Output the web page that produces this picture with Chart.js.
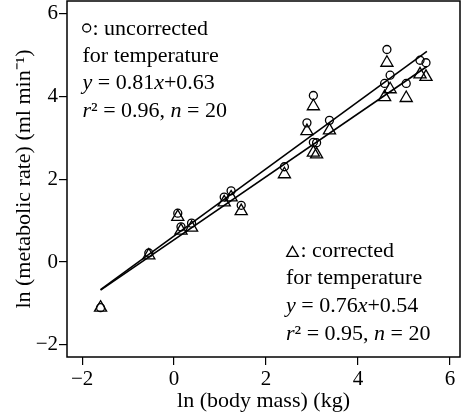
<!DOCTYPE html>
<html>
<head>
<meta charset="utf-8">
<script src="https://cdn.jsdelivr.net/npm/chart.js@4.4.1/dist/chart.umd.min.js"></script>
<style>
  html, body { margin: 0; padding: 0; background: #fff; }
  #wrap { width: 465px; height: 415px; }
</style>
</head>
<body>
<div id="wrap"><canvas id="chart" width="465" height="415"></canvas></div>
<script>
// metabolic rate vs body mass (log-log), raw and temperature corrected, with fits
const massLn = [-1.6, -0.55, 0.08, 0.15, 0.38, 1.09, 1.24, 1.46, 2.40, 2.89, 3.03, 3.38, 3.03, 3.10, 4.63, 4.70, 4.58, 5.05, 5.35, 5.48]
const rateRaw = [-1.1, 0.22, 1.18, 0.85, 0.94, 1.57, 1.72, 1.37, 2.30, 3.36, 4.02, 3.42, 2.89, 2.88, 5.13, 4.51, 4.31, 4.31, 4.87, 4.81]
const rateCorr = [-1.1, 0.16, 1.09, 0.76, 0.83, 1.44, 1.56, 1.23, 2.12, 3.16, 3.76, 3.18, 2.64, 2.60, 4.81, 4.17, 3.98, 3.96, 4.53, 4.47]

const fitNames = ['uncorrected', 'corrected']
const fitSlope = [0.81, 0.76]
const fitIntercept = [0.63, 0.54]
const fitR2 = [0.96, 0.95]
const fitN = [20, 20]
const fitRange = [-1.6, 5.5]

const xTicks = [-2, 0, 2, 4, 6]
const yTicks = [-2, 0, 2, 4, 6]

const SERIF = '"Liberation Serif", "Times New Roman", serif'
const fmt = (v) => (v < 0 ? '\u2212' + Math.abs(v) : String(v))

// box around the plot area
const frame = {
  id: 'frame',
  afterDraw(chart) {
    const { ctx, chartArea: a } = chart
    ctx.save()
    ctx.strokeStyle = '#000'
    ctx.lineWidth = 1.5
    ctx.strokeRect(a.left, a.top, a.right - a.left, a.bottom - a.top)
    ctx.restore()
  },
}

function drawRich(ctx, x, y, segs) {
  segs.forEach(([text, italic]) => {
    ctx.font = (italic ? 'italic ' : '') + '22px ' + SERIF
    ctx.fillText(text, x, y)
    x += ctx.measureText(text).width
  })
}

function noteLines(i) {
  return [
    [[': ' + fitNames[i], false]],
    [['for temperature', false]],
    [['y', true], [' = ' + fitSlope[i].toFixed(2), false], ['x', true], ['+' + fitIntercept[i].toFixed(2), false]],
    [['r', true], ['\u00b2 = ' + fitR2[i].toFixed(2) + ', ', false], ['n', true], [' = ' + fitN[i], false]],
  ]
}

// the two text blocks with their marker keys
const notes = {
  id: 'notes',
  afterDraw(chart) {
    const { ctx } = chart
    ctx.save()
    ctx.fillStyle = '#000'
    ctx.strokeStyle = '#000'
    ctx.lineWidth = 1.3
    ctx.textBaseline = 'alphabetic'
    const blocks = [
      { x: 82.5, y: 35, step: 27.2, mx: 86.7, my: 28, keyX: 92.5, shape: 'circle' },
      { x: 286, y: 256.5, step: 27.8, mx: 292.5, my: 253, keyX: 300.5, shape: 'triangle' },
    ]
    blocks.forEach((b, i) => {
      ctx.beginPath()
      if (b.shape === 'circle') {
        ctx.arc(b.mx, b.my, 4, 0, Math.PI * 2)
      } else {
        const r = 6.7
        for (let k = 0; k < 3; k++) {
          const ang = k * 2 * Math.PI / 3
          const px = b.mx + Math.sin(ang) * r, py = b.my - Math.cos(ang) * r
          k ? ctx.lineTo(px, py) : ctx.moveTo(px, py)
        }
        ctx.closePath()
      }
      ctx.stroke()
      noteLines(i).forEach((segs, j) => drawRich(ctx, j === 0 ? b.keyX : b.x, b.y + j * b.step, segs))
    })
    ctx.restore()
  },
}

const pts = (ys) => massLn.map((x, i) => ({ x, y: ys[i] }))
const fitPts = (i) => fitRange.map((x) => ({ x, y: fitSlope[i] * x + fitIntercept[i] }))

const axisCommon = {
  type: 'linear',
  grid: { drawOnChartArea: false, drawTicks: true, tickLength: 8, color: '#000', lineWidth: 1.2 },
  border: { display: false },
}

new Chart(document.getElementById('chart'), {
  type: 'scatter',
  data: {
    datasets: [
      { label: 'uncorrected', data: pts(rateRaw), pointStyle: 'circle', pointRadius: 4, borderColor: '#000', backgroundColor: 'rgba(0,0,0,0)', borderWidth: 1.3 },
      { label: 'corrected', data: pts(rateCorr), pointStyle: 'triangle', pointRadius: 7, borderColor: '#000', backgroundColor: 'rgba(0,0,0,0)', borderWidth: 1.3 },
      { label: 'fit uncorrected', data: fitPts(0), showLine: true, pointRadius: 0, borderColor: '#000', borderWidth: 1.6 },
      { label: 'fit corrected', data: fitPts(1), showLine: true, pointRadius: 0, borderColor: '#000', borderWidth: 1.6 },
    ],
  },
  options: {
    responsive: false,
    animation: false,
    events: [],
    layout: { autoPadding: false, padding: { top: 1, right: 5, left: 0, bottom: 0 } },
    plugins: { legend: { display: false }, tooltip: { enabled: false } },
    scales: {
      x: {
        ...axisCommon,
        min: -2.33,
        max: 6.22,
        afterBuildTicks: (s) => { s.ticks = xTicks.map((v) => ({ value: v })) },
        afterFit: (s) => { s.height = 58; s.paddingLeft = 0; s.paddingRight = 0 },
        ticks: { color: '#000', font: { family: SERIF, size: 21 }, padding: 2, maxRotation: 0, callback: fmt },
        title: { display: true, text: 'ln (body mass) (kg)', color: '#000', font: { family: SERIF, size: 22 }, padding: { top: 0, bottom: 1 } },
      },
      y: {
        ...axisCommon,
        min: -2.29,
        max: 6.3,
        afterBuildTicks: (s) => { s.ticks = yTicks.map((v) => ({ value: v })) },
        afterFit: (s) => { s.width = 67; s.paddingTop = 0; s.paddingBottom = 0 },
        ticks: { color: '#000', font: { family: SERIF, size: 21 }, padding: 1, callback: fmt },
        title: { display: true, text: 'ln (metabolic rate) (ml min\u207b\u00b9)', color: '#000', font: { family: SERIF, size: 22 }, padding: { top: 11, bottom: 0 } },
      },
    },
  },
  plugins: [frame, notes],
})
</script>
</body>
</html>
